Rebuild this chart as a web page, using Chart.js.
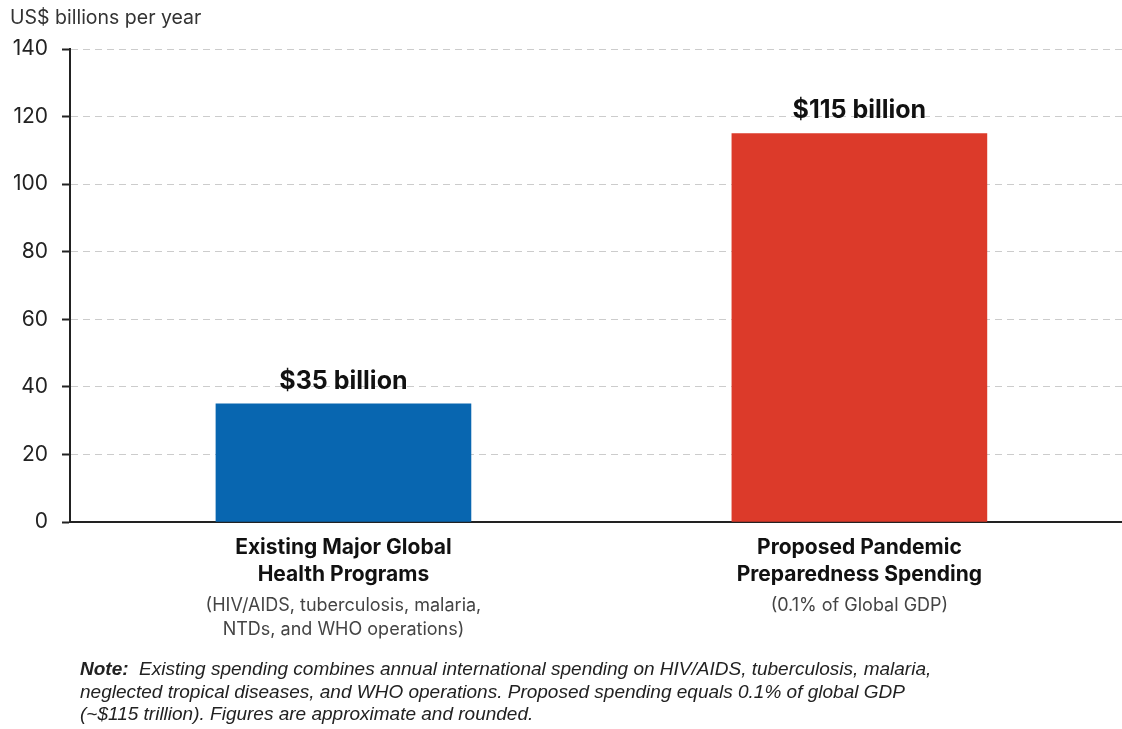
<!DOCTYPE html>
<html>
<head>
<meta charset="utf-8">
<script src="https://cdn.jsdelivr.net/npm/chart.js@4/dist/chart.umd.min.js"></script>
<style>
  html, body { margin: 0; padding: 0; background: #fff; }
  #wrap { width: 1122px; height: 729px; }
</style>
</head>
<body>
<div id="wrap"><canvas id="myChart"></canvas></div>
<script>
var categories = [
    ['Existing Major Global', 'Health Programs'],
    ['Proposed Pandemic', 'Preparedness Spending']
];
var subLabels = [
    ['(HIV/AIDS, tuberculosis, malaria,', 'NTDs, and WHO operations)'],
    ['(0.1% of Global GDP)']
];
var spending = [35, 115];
var valueLabels = ['$35 billion', '$115 billion'];
var barColors = ['#0866b0', '#dc3a2a'];
var yTicks = [0, 20, 40, 60, 80, 100, 120, 140];
var axisTitle = 'US$ billions per year';
var noteLines = [
    ['Note:', '  Existing spending combines annual international spending on HIV/AIDS, tuberculosis, malaria,'],
    ['', 'neglected tropical diseases, and WHO operations. Proposed spending equals 0.1% of global GDP'],
    ['', '(~$115 trillion). Figures are approximate and rounded.']
];

var FONT = 'Inter, "Noto Sans", sans-serif';
var NOTE_FONT = '"Liberation Sans", Arial, sans-serif';

var chartText = {
    id: 'chartText',
    afterDraw: function (chart) {
        var ctx = chart.ctx;
        var x = chart.scales.x;
        ctx.save();

        // axis title top left
        ctx.fillStyle = '#333';
        ctx.font = '19.5px ' + FONT;
        ctx.textAlign = 'left';
        ctx.textBaseline = 'middle';
        ctx.fillText(axisTitle, 10, 18);

        // values above bars
        var meta = chart.getDatasetMeta(0);
        ctx.fillStyle = '#111';
        ctx.font = 'bold 25px ' + FONT;
        ctx.textAlign = 'center';
        ctx.textBaseline = 'alphabetic';
        meta.data.forEach(function (bar, i) {
            ctx.fillText(valueLabels[i], bar.x, bar.y - 15);
        });

        // category labels under axis
        ctx.textBaseline = 'middle';
        categories.forEach(function (lines, i) {
            var cx = x.getPixelForValue(i);
            var y = 548;
            ctx.fillStyle = '#111';
            ctx.font = 'bold 21px ' + FONT;
            lines.forEach(function (l) {
                ctx.fillText(l, cx, y);
                y += 27;
            });
            y += 4;
            ctx.fillStyle = '#444';
            ctx.font = '18px ' + FONT;
            subLabels[i].forEach(function (l) {
                ctx.fillText(l, cx, y);
                y += 24;
            });
        });

        // note
        ctx.textAlign = 'left';
        ctx.fillStyle = '#222';
        noteLines.forEach(function (parts, i) {
            var y = 670 + i * 22.5;
            var px = 80;
            if (parts[0]) {
                ctx.font = 'italic bold 19px ' + NOTE_FONT;
                ctx.fillText(parts[0], px, y);
                px += ctx.measureText(parts[0]).width;
            }
            ctx.font = 'italic 19px ' + NOTE_FONT;
            ctx.fillText(parts[1], px, y);
        });
        ctx.restore();
    }
};

var ctx = document.getElementById('myChart').getContext('2d');
var myChart = new Chart(ctx, {
    type: 'bar',
    data: {
        datasets: [{
            label: axisTitle,
            data: spending.map(function (v, i) { return { x: i, y: v }; }),
            backgroundColor: barColors,
            barThickness: 255
        }]
    },
    options: {
        responsive: true,
        maintainAspectRatio: false,
        animation: false,
        layout: { padding: { top: 49, bottom: 207, left: 0, right: 0 } },
        plugins: {
            legend: { display: false },
            tooltip: { enabled: false }
        },
        scales: {
            x: {
                type: 'linear',
                offset: false,
                min: -0.53,
                max: 1.509,
                ticks: { display: false },
                grid: { display: false, drawTicks: false, offset: false },
                border: { display: true, color: '#222', width: 2 },
                afterFit: function (s) { s.height = 0; }
            },
            y: {
                min: 0,
                max: 140,
                afterBuildTicks: function (s) {
                    s.ticks = yTicks.map(function (v) { return { value: v }; });
                },
                ticks: {
                    padding: 14,
                    color: '#222',
                    font: { family: FONT, size: 21 }
                },
                grid: {
                    color: function (c) { return c.tick && c.tick.value === 0 ? 'rgba(0,0,0,0)' : '#cccccc'; },
                    lineWidth: 1,
                    tickLength: 8,
                    tickColor: '#222',
                    tickWidth: 2
                },
                border: { display: true, color: '#222', width: 2, dash: [7, 5] },
                afterFit: function (s) { s.width = 70; }
            }
        }
    },
    plugins: [chartText]
});
</script>
</body>
</html>
